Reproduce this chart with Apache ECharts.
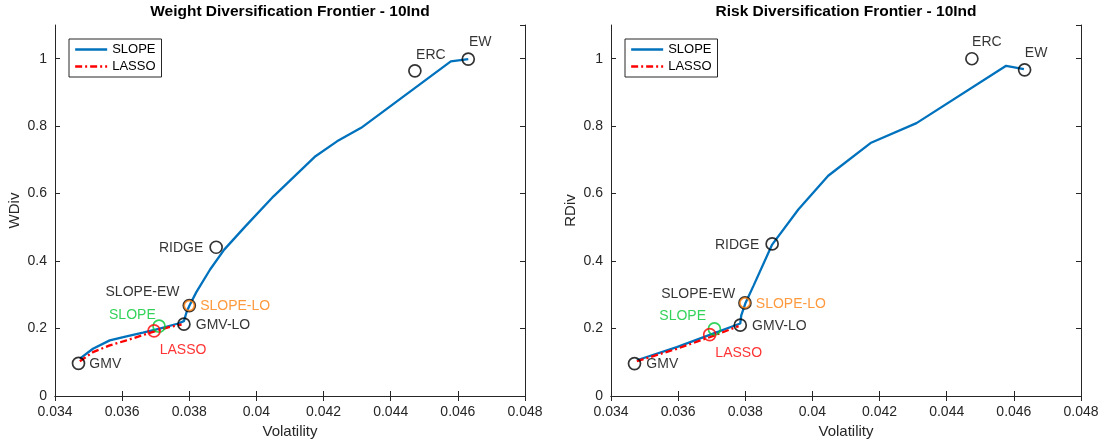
<!DOCTYPE html>
<html><head><meta charset="utf-8">
<script src="https://cdn.jsdelivr.net/npm/echarts@6/dist/echarts.min.js"></script>
<style>html,body{margin:0;padding:0;background:#fff}#c{width:1102px;height:446px}</style>
</head><body><div id="c"></div><script>
// ---------- axis / text ----------
const volMin = 0.034, volMax = 0.048, volStep = 0.002;
const divMin = 0, divMax = 1.1, divStep = 0.2;
const titles = ['Weight Diversification Frontier - 10Ind', 'Risk Diversification Frontier - 10Ind'];
const yNames = ['WDiv', 'RDiv'];
const xName = 'Volatility';
const legendNames = ['SLOPE', 'LASSO'];

// ---------- left panel: weight diversification ----------
const wSlopeVol = [0.03474, 0.03513, 0.03563, 0.03613, 0.03662, 0.03712, 0.03767, 0.03784, 0.03792, 0.03801, 0.03821, 0.03862, 0.03904, 0.03967, 0.04051, 0.04176, 0.04240, 0.04312, 0.04579, 0.04631];
const wSlopeDiv = [0.111, 0.140, 0.165, 0.177, 0.188, 0.200, 0.215, 0.222, 0.249, 0.269, 0.308, 0.375, 0.434, 0.503, 0.592, 0.711, 0.755, 0.795, 0.992, 0.999];
const wLassoVol = [0.03474, 0.03513, 0.03563, 0.03613, 0.03692, 0.03742, 0.03777];
const wLassoDiv = [0.103, 0.130, 0.150, 0.165, 0.190, 0.205, 0.212];

// ---------- right panel: risk diversification ----------
const rSlopeVol = [0.03477, 0.03596, 0.03696, 0.03785, 0.03788, 0.03800, 0.03825, 0.0388, 0.03958, 0.04047, 0.04173, 0.0431, 0.04577, 0.0463];
const rSlopeDiv = [0.106, 0.145, 0.182, 0.215, 0.239, 0.274, 0.328, 0.449, 0.553, 0.653, 0.750, 0.809, 0.979, 0.969];
const rLassoVol = [0.03477, 0.03596, 0.03696, 0.0378];
const rLassoDiv = [0.103, 0.140, 0.175, 0.207];

// ---------- portfolio markers ----------
const markerNames = ['GMV', 'GMV-LO', 'RIDGE', 'ERC', 'EW', 'SLOPE-EW', 'SLOPE-LO', 'SLOPE', 'LASSO'];
const wMarkerVol = [0.0347, 0.03784, 0.0388, 0.04472, 0.04631, 0.0380, 0.0380, 0.0371, 0.03695];
const wMarkerDiv = [0.097, 0.213, 0.441, 0.964, 0.999, 0.268, 0.268, 0.207, 0.193];
const rMarkerVol = [0.0347, 0.03785, 0.0388, 0.04475, 0.04632, 0.03799, 0.03799, 0.03708, 0.03694];
const rMarkerDiv = [0.096, 0.210, 0.451, 1.000, 0.967, 0.276, 0.276, 0.199, 0.182];

// ---------- styles ----------
const BLUE = '#0072BD', RED = '#FF0000', GREEN = '#00C832', ORANGE = '#FF7F0E', INK = '#262626';
const markerColor = { 'SLOPE': GREEN, 'LASSO': RED, 'SLOPE-LO': ORANGE };
const markerSize = { 'SLOPE-LO': 10 };
const labelStyles = [
  {
    'GMV': { position: 'right', distance: 4, offset: [0, 1] },
    'GMV-LO': { position: 'right', distance: 5, offset: [0, 1] },
    'SLOPE-EW': { position: 'left', distance: 3, offset: [0, -13] },
    'SLOPE-LO': { position: 'right', distance: 5, offset: [0, 1] },
    'SLOPE': { position: 'left', distance: 5, offset: [8.5, -11] },
    'LASSO': { position: 'bottom', distance: 5, offset: [29, 0] },
    'RIDGE': { position: 'left', distance: 6, offset: [0, 1] },
    'ERC': { position: 'top', distance: 5, offset: [16, 3] },
    'EW': { position: 'top', distance: 5, offset: [12, 1.5] }
  },
  {
    'GMV': { position: 'right', distance: 5, offset: [0, 1] },
    'GMV-LO': { position: 'right', distance: 5, offset: [0, 1] },
    'SLOPE-EW': { position: 'left', distance: 3, offset: [0, -9] },
    'SLOPE-LO': { position: 'right', distance: 5, offset: [0, 1] },
    'SLOPE': { position: 'left', distance: 5, offset: [3.5, -13] },
    'LASSO': { position: 'bottom', distance: 5, offset: [29, 0] },
    'RIDGE': { position: 'left', distance: 6, offset: [0, 1.5] },
    'ERC': { position: 'top', distance: 5, offset: [15, 2] },
    'EW': { position: 'top', distance: 5, offset: [11.5, 2] }
  }
];
const FONT = '"Liberation Sans", Helvetica, Arial, sans-serif';

const grids = [
  { left: 55, top: 25, width: 470, height: 371 },
  { left: 611, top: 25, width: 470, height: 371 }
];

const pairs = (xs, ys) => xs.map((x, i) => [x, ys[i]]);

const xAxes = [], yAxes = [], series = [], titleArr = [], legends = [];
const panels = [
  { slope: pairs(wSlopeVol, wSlopeDiv), lasso: pairs(wLassoVol, wLassoDiv), mVol: wMarkerVol, mDiv: wMarkerDiv },
  { slope: pairs(rSlopeVol, rSlopeDiv), lasso: pairs(rLassoVol, rLassoDiv), mVol: rMarkerVol, mDiv: rMarkerDiv }
];

panels.forEach((p, k) => {
  const g = grids[k];
  titleArr.push({
    text: titles[k], left: g.left + g.width / 2, top: 4, textAlign: 'center', padding: 0,
    textStyle: { fontFamily: FONT, fontSize: 15.5, fontWeight: 'bold', color: '#000' }
  });
  const axisCommon = {
    axisLine: { show: true, lineStyle: { color: INK, width: 1 } },
    axisTick: { show: true, inside: true, length: 5, lineStyle: { color: INK, width: 1 } },
    splitLine: { show: false }
  };
  xAxes.push(Object.assign({
    type: 'value', gridIndex: k, min: volMin, max: volMax, interval: volStep, position: 'bottom',
    name: xName, nameLocation: 'middle', nameGap: 28,
    nameTextStyle: { fontFamily: FONT, fontSize: 15, color: INK },
    axisLabel: { fontFamily: FONT, fontSize: 14, color: INK, margin: 9 }
  }, axisCommon));
  xAxes.push(Object.assign({
    type: 'value', gridIndex: k, min: volMin, max: volMax, interval: volStep, position: 'top',
    axisLabel: { show: false }
  }, axisCommon));
  yAxes.push(Object.assign({
    type: 'value', gridIndex: k, min: divMin, max: divMax, interval: divStep, position: 'left',
    name: yNames[k], nameLocation: 'middle', nameGap: 33,
    nameTextStyle: { fontFamily: FONT, fontSize: 15, color: INK },
    axisLabel: { fontFamily: FONT, fontSize: 14, color: INK, margin: 8, showMaxLabel: false }
  }, axisCommon));
  yAxes.push(Object.assign({
    type: 'value', gridIndex: k, min: divMin, max: divMax, interval: divStep, position: 'right',
    axisLabel: { show: false }
  }, axisCommon));

  const xi = k * 2, yi = k * 2;
  series.push({
    name: 'SLOPE', type: 'line', xAxisIndex: xi, yAxisIndex: yi, data: p.slope,
    symbol: 'none', smooth: false, lineStyle: { color: BLUE, width: 2.3 }, itemStyle: { color: BLUE }, z: 2
  });
  series.push({
    name: 'LASSO', type: 'line', xAxisIndex: xi, yAxisIndex: yi, data: p.lasso,
    symbol: 'none', smooth: false, lineStyle: { color: RED, width: 2.3, type: [7, 3, 2, 3] }, itemStyle: { color: RED }, z: 3
  });
  const styles = labelStyles[k];
  series.push({
    name: 'markers', type: 'scatter', xAxisIndex: xi, yAxisIndex: yi, z: 4,
    symbol: 'circle', symbolSize: 12, silent: true,
    data: markerNames.map((n, i) => {
      const c = markerColor[n] || '#000';
      const st = styles[n];
      return {
        name: n, value: [p.mVol[i], p.mDiv[i]],
        symbolSize: markerSize[n] || 12,
        itemStyle: { color: 'rgba(0,0,0,0)', borderColor: c, borderWidth: 1.7 },
        label: {
          show: true, formatter: n, position: st.position, distance: st.distance, offset: st.offset,
          color: c, fontFamily: FONT, fontSize: 14
        }
      };
    })
  });
  legends.push({
    data: legendNames, left: g.left + 14, top: 39, orient: 'vertical',
    itemWidth: 32, itemHeight: 14, itemGap: 4, padding: [4, 6, 4, 5],
    borderColor: INK, borderWidth: 1, backgroundColor: '#fff',
    itemStyle: { opacity: 0, color: 'rgba(0,0,0,0)', borderWidth: 0 },
    lineStyle: { width: 2.3 },
    textStyle: { fontFamily: FONT, fontSize: 13, color: '#000' },
    selectedMode: false
  });
});

const chart = echarts.init(document.getElementById('c'), null, { renderer: 'canvas' });
chart.setOption({
  animation: false,
  backgroundColor: '#fff',
  title: titleArr,
  legend: legends,
  grid: grids,
  xAxis: xAxes,
  yAxis: yAxes,
  series: series
});
</script></body></html>
